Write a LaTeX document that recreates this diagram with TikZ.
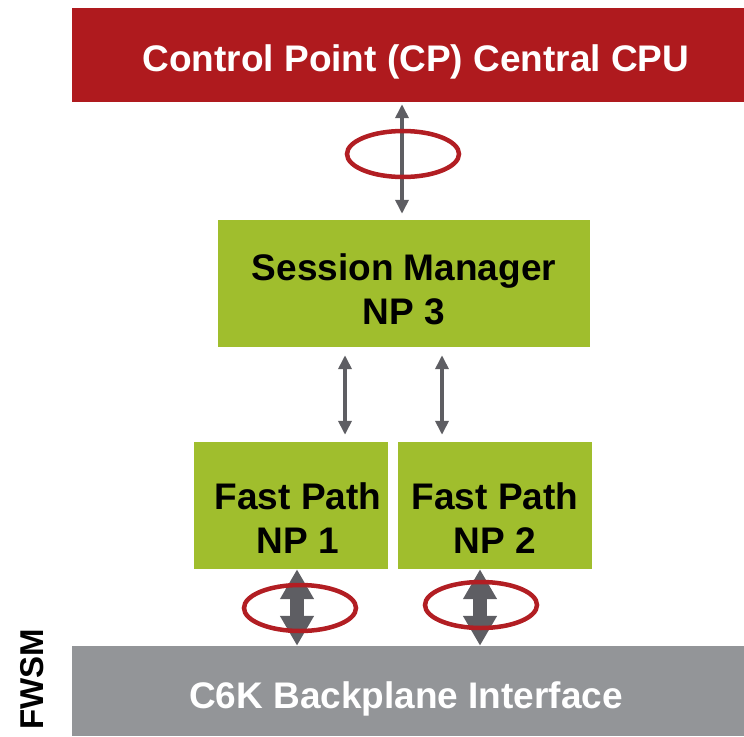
\documentclass[tikz,border=0pt]{standalone}
\usepackage{fontspec}
\setmainfont{Liberation Sans}
\usetikzlibrary{arrows.meta}

\definecolor{cpred}{HTML}{AF1A1E}
\definecolor{npgreen}{HTML}{A0BE2D}
\definecolor{bpgray}{HTML}{939598}
\definecolor{arrgray}{HTML}{5E5E63}
\definecolor{ringred}{HTML}{B21E23}

\begin{document}
\begin{tikzpicture}[x=1pt,y=-1pt,
    box/.style={inner sep=0pt},
    boxtext/.style={inner sep=0pt,align=center,font=\bfseries\fontsize{37}{44}\selectfont},
    thinarr/.style={arrgray,line width=3.5pt,{Triangle[width=13pt,length=14pt]}-{Triangle[width=13pt,length=14pt]}},
    thickarr/.style={arrgray,line width=14pt,{Triangle[width=32pt,length=30pt]}-{Triangle[width=32pt,length=30pt]}},
    ring/.style={ringred,line width=4.5pt}]
\useasboundingbox (0,0) rectangle (744,736);

% Boxes
\node[box,fill=cpred,minimum width=672pt,minimum height=94pt] (cp) at (408,55) {};
\node[box,fill=npgreen,minimum width=372pt,minimum height=127pt] (sm) at (404,283.5) {};
\node[box,fill=npgreen,minimum width=194pt,minimum height=127pt] (np1) at (291,505.5) {};
\node[box,fill=npgreen,minimum width=194pt,minimum height=127pt] (np2) at (495,505.5) {};
\node[box,fill=bpgray,minimum width=672pt,minimum height=90pt] (bp) at (408,691) {};

% Texts
\node[boxtext,text=white] (cptext) at ([xshift=8pt,yshift=-7pt]cp.center) {Control Point (CP) Central CPU};
\node[boxtext] (smtext) at ([yshift=-6pt]sm.center) {Session Manager\\NP 3};
\node[boxtext] (np1text) at ([xshift=7pt,yshift=-13pt]np1.center) {Fast Path\\NP 1};
\node[boxtext] (np2text) at ([yshift=-13pt]np2.center) {Fast Path\\NP 2};
\node[boxtext,text=white] (bptext) at ([xshift=-2pt,yshift=-8pt]bp.center) {C6K Backplane Interface};
\node[font=\bfseries\fontsize{33}{33}\selectfont,rotate=90] (fwsm) at (32,679) {FWSM};

% Arrows
\draw[thinarr,shorten <=2pt,shorten >=6pt] ([xshift=-6pt]cp.south) -- ([xshift=-6pt]cp.south |- sm.north);
\draw[thinarr,shorten <=8pt,shorten >=7pt] ([xshift=54pt]np1.north |- sm.south) -- ([xshift=54pt]np1.north);
\draw[thinarr,shorten <=8pt,shorten >=7pt] ([xshift=-53pt]np2.north |- sm.south) -- ([xshift=-53pt]np2.north);
\draw[thickarr] ([xshift=6pt]np1.south) -- ([xshift=6pt]np1.south |- bp.north);
\draw[thickarr] ([xshift=-15pt]np2.south) -- ([xshift=-15pt]np2.south |- bp.north);

% Rings
\draw[ring] (403,154) ellipse (56 and 23);
\draw[ring] (300,608) ellipse (56 and 23);
\draw[ring] (481,605) ellipse (56 and 23);
\end{tikzpicture}
\end{document}
